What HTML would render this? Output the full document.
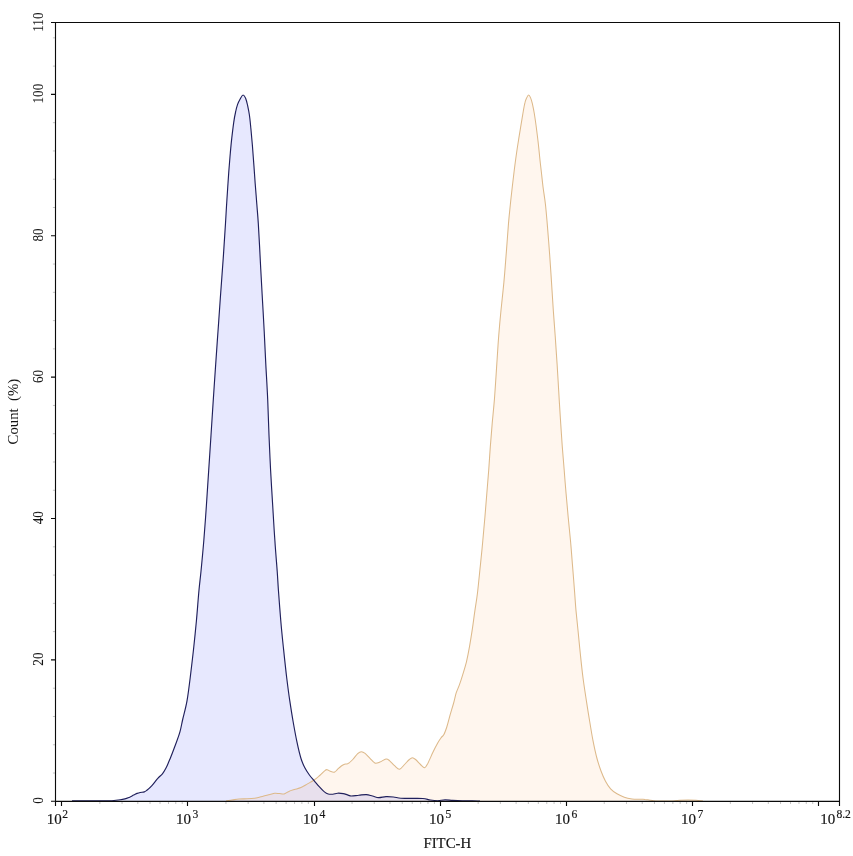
<!DOCTYPE html>
<html lang="en"><head><meta charset="utf-8"><title>FITC-H histogram</title>
<style>
html,body{margin:0;padding:0;background:#fff;}
body{width:853px;height:856px;overflow:hidden;}
svg{display:block;}
text{font-family:"Liberation Serif",serif;fill:#151515;stroke:#151515;stroke-width:0.18px;}
.tk{font-size:15px;}
.ex{font-size:13.5px;}
.yl{font-size:15.5px;stroke-width:0.08px;}
.ax{font-size:14.8px;}
</style></head><body>
<svg width="853" height="856" viewBox="0 0 853 856">
<rect x="0" y="0" width="853" height="856" fill="#ffffff"/>
<path d="M72.0,800.9C75.0,800.9 84.5,800.9 90.0,800.9C95.5,800.9 101.3,800.9 105.0,800.9C108.7,800.9 109.5,800.9 112.0,800.7C114.5,800.5 118.0,800.1 120.2,799.8C122.4,799.5 123.3,799.3 124.9,798.9C126.5,798.5 128.1,797.8 129.6,797.2C131.1,796.6 132.4,795.7 133.7,795.1C135.0,794.5 136.1,793.8 137.2,793.4C138.3,793.0 139.0,792.8 140.2,792.5C141.4,792.2 143.1,792.3 144.3,791.9C145.5,791.5 145.9,791.0 147.2,790.0C148.5,789.0 150.1,787.6 151.9,785.6C153.7,783.6 156.1,780.2 157.8,778.3C159.6,776.3 161.0,775.6 162.4,773.9C163.8,772.2 164.6,770.8 166.0,768.1C167.4,765.4 169.0,761.3 170.6,757.5C172.2,753.7 173.7,749.5 175.3,745.2C176.9,740.9 178.8,736.1 180.0,731.7C181.2,727.3 181.6,724.1 182.8,719.0C184.0,713.9 185.8,707.8 187.0,700.9C188.2,694.0 189.1,686.7 190.2,677.7C191.3,668.7 192.8,656.2 193.8,646.7C194.8,637.2 195.5,630.5 196.4,621.0C197.3,611.5 198.2,598.3 199.0,590.0C199.8,581.7 200.2,579.4 201.0,571.2C201.8,563.0 202.9,551.7 203.8,540.7C204.7,529.8 205.6,517.2 206.4,505.5C207.2,493.8 207.9,482.0 208.7,470.3C209.5,458.6 210.2,447.0 211.0,435.2C211.8,423.4 212.5,411.5 213.3,399.6C214.1,387.8 214.9,375.5 215.7,364.1C216.5,352.7 217.2,342.2 218.0,331.3C218.8,320.4 219.4,310.6 220.3,298.5C221.2,286.4 222.3,271.1 223.2,258.6C224.1,246.1 224.9,233.2 225.5,223.4C226.1,213.6 226.3,208.7 226.9,200.0C227.5,191.3 228.2,179.3 228.8,171.5C229.4,163.7 229.8,158.8 230.3,153.2C230.8,147.6 231.2,143.0 231.8,137.9C232.4,132.8 233.1,127.0 233.7,122.7C234.3,118.4 234.9,115.0 235.6,112.0C236.2,109.0 236.8,106.7 237.6,104.4C238.4,102.1 239.7,99.8 240.6,98.2C241.5,96.6 242.3,95.0 243.1,95.0C243.9,95.0 244.9,96.5 245.6,98.2C246.3,99.9 246.9,102.2 247.5,105.0C248.1,107.8 248.8,111.0 249.4,115.0C250.0,119.0 250.4,123.7 250.9,128.8C251.4,133.9 251.9,139.4 252.4,145.5C252.9,151.6 253.4,159.0 253.9,165.4C254.4,171.8 254.7,177.3 255.2,183.7C255.7,190.1 256.3,197.4 256.8,204.0C257.3,210.6 257.7,214.3 258.3,223.4C258.9,232.5 259.6,246.9 260.2,258.6C260.8,270.3 261.4,281.7 262.1,293.8C262.8,305.9 263.6,319.6 264.2,331.3C264.8,343.0 265.2,352.7 265.8,364.1C266.4,375.5 267.2,387.8 267.7,399.6C268.2,411.5 268.5,423.4 269.0,435.2C269.5,447.0 270.0,458.6 270.6,470.3C271.2,482.0 272.0,493.8 272.7,505.5C273.4,517.2 274.1,529.8 274.9,540.7C275.6,551.7 276.6,563.0 277.2,571.2C277.8,579.4 277.8,581.7 278.4,590.0C279.0,598.3 280.0,611.5 280.8,621.0C281.6,630.5 282.3,637.2 283.3,646.7C284.3,656.2 285.6,668.7 286.7,677.7C287.8,686.7 288.7,693.6 289.8,700.9C290.9,708.2 291.9,714.6 293.1,721.5C294.3,728.4 295.7,736.0 297.0,742.2C298.3,748.4 299.7,754.3 301.0,758.5C302.3,762.7 303.3,764.8 304.7,767.5C306.1,770.2 307.8,772.8 309.4,775.0C311.0,777.2 312.4,778.6 314.1,780.6C315.8,782.6 318.0,785.3 319.7,787.2C321.4,789.1 323.0,790.8 324.4,791.9C325.8,793.0 326.8,793.6 328.2,794.0C329.6,794.4 331.3,794.3 332.9,794.2C334.4,794.1 335.8,793.3 337.5,793.2C339.2,793.1 341.5,793.3 343.2,793.6C344.9,793.9 346.1,794.5 347.5,794.9C348.9,795.3 349.6,796.0 351.5,796.0C353.4,796.0 356.4,795.4 358.9,795.2C361.4,795.0 364.0,794.5 366.3,794.6C368.6,794.7 370.4,795.5 372.5,796.0C374.6,796.5 376.4,797.5 378.6,797.6C380.9,797.7 383.5,796.7 386.0,796.6C388.5,796.5 390.9,796.7 393.4,797.0C395.9,797.3 397.9,798.0 400.8,798.2C403.7,798.4 406.9,798.4 410.6,798.4C414.3,798.4 419.6,798.2 422.9,798.5C426.2,798.8 427.8,799.6 430.3,800.0C432.8,800.4 435.2,800.7 437.7,800.7C440.2,800.7 442.6,799.8 445.1,799.8C447.6,799.8 449.6,800.2 452.5,800.4C455.4,800.6 459.0,800.8 462.3,800.9C465.6,801.0 469.2,800.9 472.2,800.9C475.1,800.9 478.7,801.0 480.0,801.0L480.0,801.3L72.0,801.3Z" fill="#000cf0" fill-opacity="0.094" stroke="none"/>
<path d="M226.0,800.9C227.0,800.8 229.8,800.3 232.0,800.0C234.2,799.7 236.5,799.2 239.0,799.0C241.5,798.8 244.4,798.9 247.0,798.8C249.6,798.7 252.2,798.6 254.4,798.3C256.6,798.0 258.3,797.4 260.0,797.0C261.7,796.6 263.1,796.2 264.8,795.8C266.5,795.4 268.4,795.0 270.0,794.6C271.6,794.2 273.1,793.5 274.7,793.3C276.3,793.1 277.8,793.5 279.4,793.6C281.0,793.7 282.5,794.4 284.1,794.0C285.7,793.6 287.1,792.1 288.8,791.4C290.5,790.6 292.4,790.1 294.4,789.5C296.4,788.9 298.8,788.5 301.0,787.6C303.2,786.7 305.3,785.2 307.5,783.9C309.7,782.6 312.1,781.4 314.1,780.0C316.1,778.6 317.8,777.1 319.7,775.5C321.6,773.9 324.1,771.2 325.3,770.3C326.6,769.3 326.2,769.6 327.2,769.8C328.1,770.0 329.8,771.2 331.0,771.6C332.2,772.0 333.6,772.4 334.7,772.0C335.8,771.6 336.4,770.4 337.5,769.4C338.6,768.4 340.1,766.9 341.3,766.0C342.5,765.1 343.4,764.6 344.5,764.2C345.6,763.8 346.5,764.4 347.9,763.6C349.3,762.8 351.2,761.2 352.8,759.5C354.4,757.8 356.3,754.9 357.7,753.6C359.1,752.3 360.2,751.7 361.4,751.7C362.6,751.7 363.7,752.3 365.1,753.4C366.5,754.5 368.4,756.7 370.0,758.3C371.6,759.9 373.2,762.4 374.9,763.0C376.5,763.6 378.0,762.7 379.9,762.0C381.8,761.3 384.4,759.2 386.0,759.0C387.6,758.8 388.3,759.7 389.7,760.8C391.1,761.9 393.0,764.3 394.6,765.7C396.2,767.1 398.0,769.4 399.6,769.2C401.2,769.0 402.9,766.1 404.5,764.5C406.1,762.9 408.1,760.6 409.4,759.5C410.7,758.4 411.4,757.8 412.4,757.8C413.4,757.8 414.2,758.4 415.6,759.5C417.0,760.6 419.0,763.1 420.5,764.5C422.0,765.9 423.5,767.9 424.7,767.7C425.9,767.5 426.5,765.7 427.9,763.2C429.2,760.7 431.2,755.9 432.8,752.5C434.4,749.1 436.3,745.5 437.7,743.0C439.1,740.5 440.4,738.8 441.4,737.4C442.4,736.0 443.0,736.3 443.9,734.6C444.8,732.9 445.8,730.0 446.8,727.0C447.8,724.0 448.6,720.3 449.7,716.4C450.8,712.5 452.4,707.4 453.5,703.5C454.6,699.6 455.2,696.2 456.1,693.2C457.1,690.2 458.1,688.4 459.2,685.4C460.3,682.4 461.4,679.0 462.6,675.1C463.8,671.2 465.2,666.9 466.4,662.2C467.5,657.5 468.5,652.3 469.5,646.7C470.5,641.1 471.5,634.7 472.4,628.7C473.3,622.7 474.0,616.7 474.9,610.6C475.8,604.5 476.7,599.8 477.6,592.0C478.5,584.2 479.6,572.6 480.5,564.1C481.4,555.6 482.1,548.5 482.8,540.7C483.5,532.9 484.2,525.0 484.9,517.2C485.6,509.4 486.2,501.6 486.8,493.8C487.4,486.0 488.1,478.1 488.7,470.3C489.3,462.5 489.7,454.7 490.3,446.9C490.9,439.1 491.5,431.3 492.2,423.4C492.9,415.5 493.6,409.5 494.4,399.6C495.2,389.7 496.1,374.7 496.8,364.1C497.5,353.5 498.0,345.0 498.7,336.0C499.4,327.0 500.1,319.2 501.0,310.2C501.9,301.2 503.0,291.5 503.9,282.1C504.8,272.7 505.4,263.7 506.2,253.9C507.0,244.1 507.8,231.7 508.5,223.4C509.2,215.1 509.8,210.1 510.4,204.0C511.0,197.9 511.7,192.1 512.3,186.7C512.9,181.3 513.5,176.6 514.1,171.5C514.7,166.4 515.4,161.3 516.1,156.2C516.8,151.1 517.6,145.8 518.4,141.0C519.1,136.2 519.9,131.9 520.6,127.3C521.4,122.7 522.2,117.6 522.9,113.5C523.6,109.4 524.2,105.6 524.9,102.9C525.5,100.2 526.2,98.9 526.8,97.6C527.4,96.3 528.0,95.0 528.6,95.0C529.2,95.0 529.9,96.2 530.5,97.6C531.1,99.0 531.7,100.8 532.3,103.4C532.9,106.1 533.7,109.8 534.3,113.5C534.9,117.2 535.5,121.1 536.1,125.7C536.7,130.3 537.4,135.9 538.0,141.0C538.6,146.1 539.1,151.1 539.6,156.2C540.1,161.3 540.7,166.4 541.3,171.5C541.9,176.6 542.3,181.3 543.0,186.7C543.7,192.1 544.7,197.9 545.4,204.0C546.1,210.1 546.5,215.1 547.2,223.4C547.9,231.7 548.9,244.1 549.6,253.9C550.3,263.7 550.9,272.7 551.5,282.1C552.1,291.5 552.7,301.2 553.3,310.2C553.9,319.2 554.6,327.0 555.2,336.0C555.8,345.0 556.4,353.5 557.1,364.1C557.8,374.7 558.6,389.7 559.2,399.6C559.8,409.5 560.2,415.5 560.7,423.4C561.2,431.3 561.7,439.1 562.3,446.9C562.9,454.7 563.6,462.5 564.2,470.3C564.8,478.1 565.4,486.0 566.1,493.8C566.8,501.6 567.5,509.4 568.2,517.2C568.9,525.0 569.8,532.9 570.5,540.7C571.2,548.5 571.7,555.6 572.4,564.1C573.1,572.6 574.0,584.2 574.6,592.0C575.2,599.8 575.4,604.1 576.0,610.6C576.6,617.1 577.4,624.0 578.1,631.3C578.8,638.6 579.6,646.8 580.4,654.5C581.2,662.2 582.0,670.0 583.0,677.7C584.0,685.4 585.3,693.6 586.4,700.9C587.5,708.2 588.6,715.0 589.7,721.5C590.8,728.0 591.6,733.4 592.8,739.6C594.0,745.8 595.6,753.3 597.0,758.5C598.4,763.7 599.6,767.2 601.0,771.0C602.4,774.8 603.9,778.2 605.5,781.2C607.1,784.2 608.7,786.7 610.6,788.8C612.5,790.9 614.7,792.4 617.0,793.8C619.3,795.2 621.8,796.3 624.3,797.2C626.8,798.1 629.4,798.6 632.0,799.0C634.6,799.4 637.8,799.2 640.0,799.3C642.2,799.4 643.3,799.2 645.0,799.4C646.7,799.5 648.2,800.0 650.0,800.2C651.8,800.5 653.2,800.8 655.7,800.9C658.2,801.0 662.1,801.0 665.0,801.0C667.9,801.0 670.5,801.0 673.0,800.9C675.5,800.8 677.5,800.5 680.0,800.3C682.5,800.1 685.3,799.9 688.0,799.9C690.7,799.9 693.5,800.1 696.0,800.3C698.5,800.5 701.8,800.8 703.0,800.9L703.0,801.3L226.0,801.3Z" fill="#ff7a0c" fill-opacity="0.07" stroke="none"/>
<path d="M226.0,800.9C227.0,800.8 229.8,800.3 232.0,800.0C234.2,799.7 236.5,799.2 239.0,799.0C241.5,798.8 244.4,798.9 247.0,798.8C249.6,798.7 252.2,798.6 254.4,798.3C256.6,798.0 258.3,797.4 260.0,797.0C261.7,796.6 263.1,796.2 264.8,795.8C266.5,795.4 268.4,795.0 270.0,794.6C271.6,794.2 273.1,793.5 274.7,793.3C276.3,793.1 277.8,793.5 279.4,793.6C281.0,793.7 282.5,794.4 284.1,794.0C285.7,793.6 287.1,792.1 288.8,791.4C290.5,790.6 292.4,790.1 294.4,789.5C296.4,788.9 298.8,788.5 301.0,787.6C303.2,786.7 305.3,785.2 307.5,783.9C309.7,782.6 312.1,781.4 314.1,780.0C316.1,778.6 317.8,777.1 319.7,775.5C321.6,773.9 324.1,771.2 325.3,770.3C326.6,769.3 326.2,769.6 327.2,769.8C328.1,770.0 329.8,771.2 331.0,771.6C332.2,772.0 333.6,772.4 334.7,772.0C335.8,771.6 336.4,770.4 337.5,769.4C338.6,768.4 340.1,766.9 341.3,766.0C342.5,765.1 343.4,764.6 344.5,764.2C345.6,763.8 346.5,764.4 347.9,763.6C349.3,762.8 351.2,761.2 352.8,759.5C354.4,757.8 356.3,754.9 357.7,753.6C359.1,752.3 360.2,751.7 361.4,751.7C362.6,751.7 363.7,752.3 365.1,753.4C366.5,754.5 368.4,756.7 370.0,758.3C371.6,759.9 373.2,762.4 374.9,763.0C376.5,763.6 378.0,762.7 379.9,762.0C381.8,761.3 384.4,759.2 386.0,759.0C387.6,758.8 388.3,759.7 389.7,760.8C391.1,761.9 393.0,764.3 394.6,765.7C396.2,767.1 398.0,769.4 399.6,769.2C401.2,769.0 402.9,766.1 404.5,764.5C406.1,762.9 408.1,760.6 409.4,759.5C410.7,758.4 411.4,757.8 412.4,757.8C413.4,757.8 414.2,758.4 415.6,759.5C417.0,760.6 419.0,763.1 420.5,764.5C422.0,765.9 423.5,767.9 424.7,767.7C425.9,767.5 426.5,765.7 427.9,763.2C429.2,760.7 431.2,755.9 432.8,752.5C434.4,749.1 436.3,745.5 437.7,743.0C439.1,740.5 440.4,738.8 441.4,737.4C442.4,736.0 443.0,736.3 443.9,734.6C444.8,732.9 445.8,730.0 446.8,727.0C447.8,724.0 448.6,720.3 449.7,716.4C450.8,712.5 452.4,707.4 453.5,703.5C454.6,699.6 455.2,696.2 456.1,693.2C457.1,690.2 458.1,688.4 459.2,685.4C460.3,682.4 461.4,679.0 462.6,675.1C463.8,671.2 465.2,666.9 466.4,662.2C467.5,657.5 468.5,652.3 469.5,646.7C470.5,641.1 471.5,634.7 472.4,628.7C473.3,622.7 474.0,616.7 474.9,610.6C475.8,604.5 476.7,599.8 477.6,592.0C478.5,584.2 479.6,572.6 480.5,564.1C481.4,555.6 482.1,548.5 482.8,540.7C483.5,532.9 484.2,525.0 484.9,517.2C485.6,509.4 486.2,501.6 486.8,493.8C487.4,486.0 488.1,478.1 488.7,470.3C489.3,462.5 489.7,454.7 490.3,446.9C490.9,439.1 491.5,431.3 492.2,423.4C492.9,415.5 493.6,409.5 494.4,399.6C495.2,389.7 496.1,374.7 496.8,364.1C497.5,353.5 498.0,345.0 498.7,336.0C499.4,327.0 500.1,319.2 501.0,310.2C501.9,301.2 503.0,291.5 503.9,282.1C504.8,272.7 505.4,263.7 506.2,253.9C507.0,244.1 507.8,231.7 508.5,223.4C509.2,215.1 509.8,210.1 510.4,204.0C511.0,197.9 511.7,192.1 512.3,186.7C512.9,181.3 513.5,176.6 514.1,171.5C514.7,166.4 515.4,161.3 516.1,156.2C516.8,151.1 517.6,145.8 518.4,141.0C519.1,136.2 519.9,131.9 520.6,127.3C521.4,122.7 522.2,117.6 522.9,113.5C523.6,109.4 524.2,105.6 524.9,102.9C525.5,100.2 526.2,98.9 526.8,97.6C527.4,96.3 528.0,95.0 528.6,95.0C529.2,95.0 529.9,96.2 530.5,97.6C531.1,99.0 531.7,100.8 532.3,103.4C532.9,106.1 533.7,109.8 534.3,113.5C534.9,117.2 535.5,121.1 536.1,125.7C536.7,130.3 537.4,135.9 538.0,141.0C538.6,146.1 539.1,151.1 539.6,156.2C540.1,161.3 540.7,166.4 541.3,171.5C541.9,176.6 542.3,181.3 543.0,186.7C543.7,192.1 544.7,197.9 545.4,204.0C546.1,210.1 546.5,215.1 547.2,223.4C547.9,231.7 548.9,244.1 549.6,253.9C550.3,263.7 550.9,272.7 551.5,282.1C552.1,291.5 552.7,301.2 553.3,310.2C553.9,319.2 554.6,327.0 555.2,336.0C555.8,345.0 556.4,353.5 557.1,364.1C557.8,374.7 558.6,389.7 559.2,399.6C559.8,409.5 560.2,415.5 560.7,423.4C561.2,431.3 561.7,439.1 562.3,446.9C562.9,454.7 563.6,462.5 564.2,470.3C564.8,478.1 565.4,486.0 566.1,493.8C566.8,501.6 567.5,509.4 568.2,517.2C568.9,525.0 569.8,532.9 570.5,540.7C571.2,548.5 571.7,555.6 572.4,564.1C573.1,572.6 574.0,584.2 574.6,592.0C575.2,599.8 575.4,604.1 576.0,610.6C576.6,617.1 577.4,624.0 578.1,631.3C578.8,638.6 579.6,646.8 580.4,654.5C581.2,662.2 582.0,670.0 583.0,677.7C584.0,685.4 585.3,693.6 586.4,700.9C587.5,708.2 588.6,715.0 589.7,721.5C590.8,728.0 591.6,733.4 592.8,739.6C594.0,745.8 595.6,753.3 597.0,758.5C598.4,763.7 599.6,767.2 601.0,771.0C602.4,774.8 603.9,778.2 605.5,781.2C607.1,784.2 608.7,786.7 610.6,788.8C612.5,790.9 614.7,792.4 617.0,793.8C619.3,795.2 621.8,796.3 624.3,797.2C626.8,798.1 629.4,798.6 632.0,799.0C634.6,799.4 637.8,799.2 640.0,799.3C642.2,799.4 643.3,799.2 645.0,799.4C646.7,799.5 648.2,800.0 650.0,800.2C651.8,800.5 653.2,800.8 655.7,800.9C658.2,801.0 662.1,801.0 665.0,801.0C667.9,801.0 670.5,801.0 673.0,800.9C675.5,800.8 677.5,800.5 680.0,800.3C682.5,800.1 685.3,799.9 688.0,799.9C690.7,799.9 693.5,800.1 696.0,800.3C698.5,800.5 701.8,800.8 703.0,800.9" fill="none" stroke="#ddb98a" stroke-width="1.05" stroke-linejoin="round"/>
<path d="M72.0,800.9C75.0,800.9 84.5,800.9 90.0,800.9C95.5,800.9 101.3,800.9 105.0,800.9C108.7,800.9 109.5,800.9 112.0,800.7C114.5,800.5 118.0,800.1 120.2,799.8C122.4,799.5 123.3,799.3 124.9,798.9C126.5,798.5 128.1,797.8 129.6,797.2C131.1,796.6 132.4,795.7 133.7,795.1C135.0,794.5 136.1,793.8 137.2,793.4C138.3,793.0 139.0,792.8 140.2,792.5C141.4,792.2 143.1,792.3 144.3,791.9C145.5,791.5 145.9,791.0 147.2,790.0C148.5,789.0 150.1,787.6 151.9,785.6C153.7,783.6 156.1,780.2 157.8,778.3C159.6,776.3 161.0,775.6 162.4,773.9C163.8,772.2 164.6,770.8 166.0,768.1C167.4,765.4 169.0,761.3 170.6,757.5C172.2,753.7 173.7,749.5 175.3,745.2C176.9,740.9 178.8,736.1 180.0,731.7C181.2,727.3 181.6,724.1 182.8,719.0C184.0,713.9 185.8,707.8 187.0,700.9C188.2,694.0 189.1,686.7 190.2,677.7C191.3,668.7 192.8,656.2 193.8,646.7C194.8,637.2 195.5,630.5 196.4,621.0C197.3,611.5 198.2,598.3 199.0,590.0C199.8,581.7 200.2,579.4 201.0,571.2C201.8,563.0 202.9,551.7 203.8,540.7C204.7,529.8 205.6,517.2 206.4,505.5C207.2,493.8 207.9,482.0 208.7,470.3C209.5,458.6 210.2,447.0 211.0,435.2C211.8,423.4 212.5,411.5 213.3,399.6C214.1,387.8 214.9,375.5 215.7,364.1C216.5,352.7 217.2,342.2 218.0,331.3C218.8,320.4 219.4,310.6 220.3,298.5C221.2,286.4 222.3,271.1 223.2,258.6C224.1,246.1 224.9,233.2 225.5,223.4C226.1,213.6 226.3,208.7 226.9,200.0C227.5,191.3 228.2,179.3 228.8,171.5C229.4,163.7 229.8,158.8 230.3,153.2C230.8,147.6 231.2,143.0 231.8,137.9C232.4,132.8 233.1,127.0 233.7,122.7C234.3,118.4 234.9,115.0 235.6,112.0C236.2,109.0 236.8,106.7 237.6,104.4C238.4,102.1 239.7,99.8 240.6,98.2C241.5,96.6 242.3,95.0 243.1,95.0C243.9,95.0 244.9,96.5 245.6,98.2C246.3,99.9 246.9,102.2 247.5,105.0C248.1,107.8 248.8,111.0 249.4,115.0C250.0,119.0 250.4,123.7 250.9,128.8C251.4,133.9 251.9,139.4 252.4,145.5C252.9,151.6 253.4,159.0 253.9,165.4C254.4,171.8 254.7,177.3 255.2,183.7C255.7,190.1 256.3,197.4 256.8,204.0C257.3,210.6 257.7,214.3 258.3,223.4C258.9,232.5 259.6,246.9 260.2,258.6C260.8,270.3 261.4,281.7 262.1,293.8C262.8,305.9 263.6,319.6 264.2,331.3C264.8,343.0 265.2,352.7 265.8,364.1C266.4,375.5 267.2,387.8 267.7,399.6C268.2,411.5 268.5,423.4 269.0,435.2C269.5,447.0 270.0,458.6 270.6,470.3C271.2,482.0 272.0,493.8 272.7,505.5C273.4,517.2 274.1,529.8 274.9,540.7C275.6,551.7 276.6,563.0 277.2,571.2C277.8,579.4 277.8,581.7 278.4,590.0C279.0,598.3 280.0,611.5 280.8,621.0C281.6,630.5 282.3,637.2 283.3,646.7C284.3,656.2 285.6,668.7 286.7,677.7C287.8,686.7 288.7,693.6 289.8,700.9C290.9,708.2 291.9,714.6 293.1,721.5C294.3,728.4 295.7,736.0 297.0,742.2C298.3,748.4 299.7,754.3 301.0,758.5C302.3,762.7 303.3,764.8 304.7,767.5C306.1,770.2 307.8,772.8 309.4,775.0C311.0,777.2 312.4,778.6 314.1,780.6C315.8,782.6 318.0,785.3 319.7,787.2C321.4,789.1 323.0,790.8 324.4,791.9C325.8,793.0 326.8,793.6 328.2,794.0C329.6,794.4 331.3,794.3 332.9,794.2C334.4,794.1 335.8,793.3 337.5,793.2C339.2,793.1 341.5,793.3 343.2,793.6C344.9,793.9 346.1,794.5 347.5,794.9C348.9,795.3 349.6,796.0 351.5,796.0C353.4,796.0 356.4,795.4 358.9,795.2C361.4,795.0 364.0,794.5 366.3,794.6C368.6,794.7 370.4,795.5 372.5,796.0C374.6,796.5 376.4,797.5 378.6,797.6C380.9,797.7 383.5,796.7 386.0,796.6C388.5,796.5 390.9,796.7 393.4,797.0C395.9,797.3 397.9,798.0 400.8,798.2C403.7,798.4 406.9,798.4 410.6,798.4C414.3,798.4 419.6,798.2 422.9,798.5C426.2,798.8 427.8,799.6 430.3,800.0C432.8,800.4 435.2,800.7 437.7,800.7C440.2,800.7 442.6,799.8 445.1,799.8C447.6,799.8 449.6,800.2 452.5,800.4C455.4,800.6 459.0,800.8 462.3,800.9C465.6,801.0 469.2,800.9 472.2,800.9C475.1,800.9 478.7,801.0 480.0,801.0" fill="none" stroke="#20205c" stroke-width="1.15" stroke-linejoin="round"/>
<path d="M99.86,801.4v2.6M122.06,801.4v2.6M137.82,801.4v2.6M150.04,801.4v2.6M160.02,801.4v2.6M168.47,801.4v2.6M175.78,801.4v2.6M182.23,801.4v2.6M225.96,801.4v2.6M248.16,801.4v2.6M263.92,801.4v2.6M276.14,801.4v2.6M286.12,801.4v2.6M294.57,801.4v2.6M301.88,801.4v2.6M308.33,801.4v2.6M352.06,801.4v2.6M374.26,801.4v2.6M390.02,801.4v2.6M402.24,801.4v2.6M412.22,801.4v2.6M420.67,801.4v2.6M427.98,801.4v2.6M434.43,801.4v2.6M478.16,801.4v2.6M500.36,801.4v2.6M516.12,801.4v2.6M528.34,801.4v2.6M538.32,801.4v2.6M546.77,801.4v2.6M554.08,801.4v2.6M560.53,801.4v2.6M604.26,801.4v2.6M626.46,801.4v2.6M642.22,801.4v2.6M654.44,801.4v2.6M664.42,801.4v2.6M672.87,801.4v2.6M680.18,801.4v2.6M686.63,801.4v2.6M730.36,801.4v2.6M752.56,801.4v2.6M768.32,801.4v2.6M780.54,801.4v2.6M790.52,801.4v2.6M798.97,801.4v2.6M806.28,801.4v2.6M812.73,801.4v2.6M55.5,773.02h-2.6M55.5,744.75h-2.6M55.5,716.47h-2.6M55.5,688.20h-2.6M55.5,631.64h-2.6M55.5,603.37h-2.6M55.5,575.09h-2.6M55.5,546.82h-2.6M55.5,490.26h-2.6M55.5,461.99h-2.6M55.5,433.71h-2.6M55.5,405.44h-2.6M55.5,348.88h-2.6M55.5,320.61h-2.6M55.5,292.33h-2.6M55.5,264.06h-2.6M55.5,207.50h-2.6M55.5,179.23h-2.6M55.5,150.95h-2.6M55.5,122.68h-2.6M55.5,66.12h-2.6M55.5,37.85h-2.6" stroke="#c4c4c4" stroke-width="1" fill="none"/>
<path d="M55.5,22.5H839.5V801.4H55.5ZM61.50,801.4v4.6M187.50,801.4v4.6M314.50,801.4v4.6M440.50,801.4v4.6M566.50,801.4v4.6M692.50,801.4v4.6M818.50,801.4v4.6M55.5,801.4v4.6M839.5,801.4v4.6M55.5,801.30h-4.5M55.5,659.92h-4.5M55.5,518.54h-4.5M55.5,377.16h-4.5M55.5,235.78h-4.5M55.5,94.40h-4.5M55.5,22.5h-4.5" stroke="#0a0a0a" stroke-width="1.12" fill="none" stroke-linecap="butt"/>
<text class="tk" x="46.7" y="824">10</text>
<text class="ex" transform="translate(62.2,817.9) scale(0.86,1)">2</text>
<text class="tk" x="176.0" y="824">10</text>
<text class="ex" transform="translate(192.6,817.9) scale(0.86,1)">3</text>
<text class="tk" x="303.0" y="824">10</text>
<text class="ex" transform="translate(319.6,817.9) scale(0.86,1)">4</text>
<text class="tk" x="429.0" y="824">10</text>
<text class="ex" transform="translate(445.6,817.9) scale(0.86,1)">5</text>
<text class="tk" x="555.0" y="824">10</text>
<text class="ex" transform="translate(571.6,817.9) scale(0.86,1)">6</text>
<text class="tk" x="681.0" y="824">10</text>
<text class="ex" transform="translate(697.6,817.9) scale(0.86,1)">7</text>
<text class="tk" x="820.2" y="824">10</text>
<text class="ex" transform="translate(836.4,817.9) scale(0.86,1)">8.2</text>
<text class="yl" text-anchor="middle" transform="translate(42.6,800.5) rotate(-90) scale(0.85,1)">0</text>
<text class="yl" text-anchor="middle" transform="translate(42.6,659.1) rotate(-90) scale(0.85,1)">20</text>
<text class="yl" text-anchor="middle" transform="translate(42.6,517.7) rotate(-90) scale(0.85,1)">40</text>
<text class="yl" text-anchor="middle" transform="translate(42.6,376.4) rotate(-90) scale(0.85,1)">60</text>
<text class="yl" text-anchor="middle" transform="translate(42.6,235.0) rotate(-90) scale(0.85,1)">80</text>
<text class="yl" text-anchor="middle" transform="translate(42.6,93.6) rotate(-90) scale(0.85,1)">100</text>
<text class="yl" text-anchor="middle" transform="translate(42.6,22.1) rotate(-90) scale(0.85,1)">110</text>
<text class="ax" text-anchor="middle" x="447.3" y="847.6">FITC-H</text>
<text class="ax" text-anchor="middle" transform="translate(17.8,411.6) rotate(-90) scale(1.07,1)" style="white-space:pre;font-size:13.8px;stroke:none">Count  (%)</text>
</svg></body></html>
